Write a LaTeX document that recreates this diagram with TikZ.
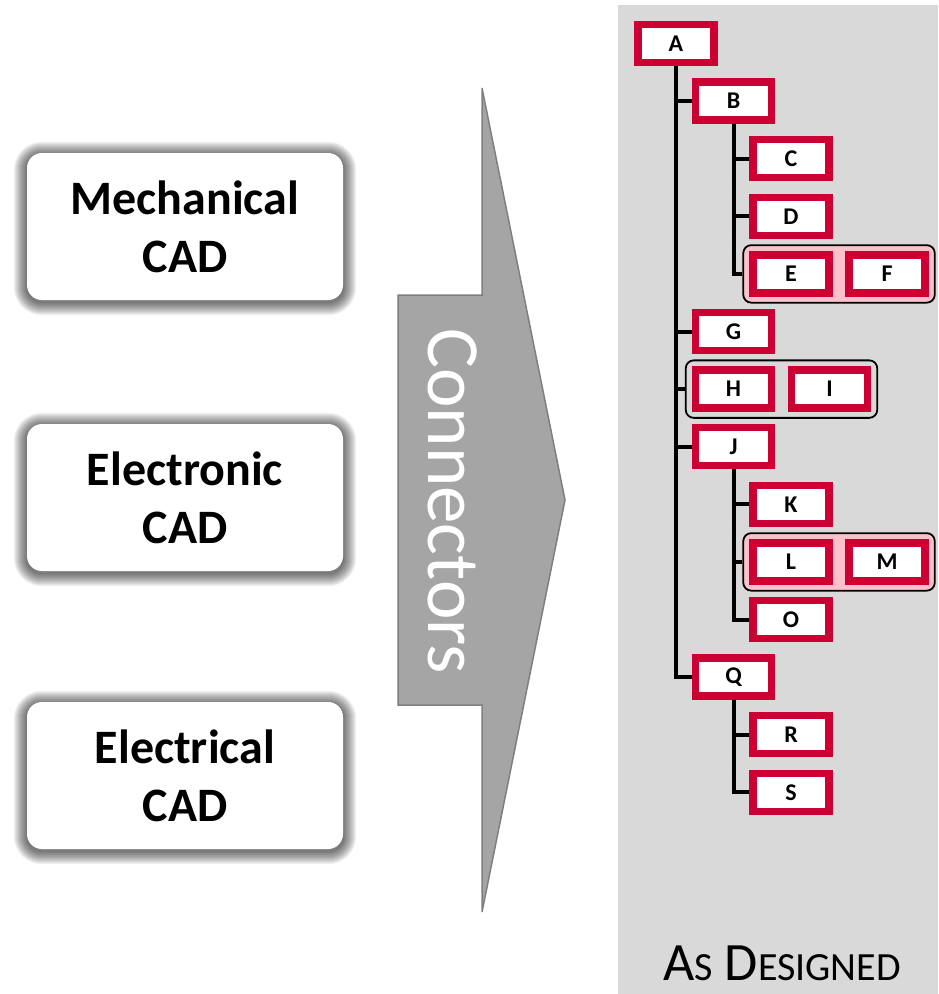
\documentclass[tikz,border=0pt]{standalone}
\usepackage{fontspec}
\setmainfont{Carlito}
\usepackage{tikz,xcolor}
\usetikzlibrary{positioning, fit, backgrounds}

\begin{document}
\begin{tikzpicture}[x=1pt, y=-1pt, node distance=57.6pt]

\definecolor{partred}{HTML}{CC0033}
\definecolor{grouppink}{HTML}{FFBFCB}
\definecolor{panelgray}{HTML}{D9D9D9}
\definecolor{arrowgray}{HTML}{A5A5A5}
\definecolor{arrowedge}{HTML}{7F7F7F}

\tikzstyle{cad} = [rectangle, rounded corners=15pt, fill=white, minimum width=316pt, minimum height=147pt, align=center, font=\bfseries\fontsize{48}{58}\selectfont]
\tikzstyle{part} = [rectangle, draw=partred, fill=white, line width=7.5pt, minimum width=76pt, minimum height=38pt, inner sep=0pt, font=\bfseries\fontsize{24}{24}\selectfont]
\tikzstyle{partgroup} = [rectangle, rounded corners=8pt, draw=black, line width=1.8pt, inner sep=6pt]
\tikzstyle{branch} = [draw=black, line width=4pt]

\useasboundingbox (0,0) rectangle (938,994);

% CAD sources
\node[cad] (mech) at (185,226.5) {Mechanical\\CAD};
\node[cad, below of=mech, node distance=271pt] (etronic) {Electronic\\CAD};
\node[cad, below of=etronic, node distance=278pt] (etrical) {Electrical\\CAD};

% big arrow
\draw[fill=arrowgray, draw=arrowedge, line width=1.5pt] (398,295) -- (482,295) -- (482,88) -- (565,500) -- (482,912) -- (482,705) -- (398,705) -- cycle;
\node[rotate=-90, text=white, font=\fontsize{75}{75}\selectfont] (conn) at (453,501) {Connectors};

% as designed structure
\node[part] (A) at (676,43.5) {A};
\node[part, below of=A, xshift=57.5pt] (B) {B};
\node[part, below of=B, xshift=57.5pt] (C) {C};
\node[part, below of=C] (D) {D};
\node[part, below of=D] (E) {E};
\node[part, right of=E, node distance=96pt] (F) {F};
\node[part, below of=E, xshift=-57.5pt] (G) {G};
\node[part, below of=G] (H) {H};
\node[part, right of=H, node distance=96pt] (I) {I};
\node[part, below of=H] (J) {J};
\node[part, below of=J, xshift=57.5pt] (K) {K};
\node[part, below of=K] (L) {L};
\node[part, right of=L, node distance=96pt] (M) {M};
\node[part, below of=L] (O) {O};
\node[part, below of=O, xshift=-57.5pt] (Q) {Q};
\node[part, below of=Q, xshift=57.5pt] (R) {R};
\node[part, below of=R] (S) {S};

\node[anchor=base, inner sep=0pt] (designed) at (782,980) {\fontsize{54}{60}\selectfont A\fontsize{40}{44}\selectfont S\fontsize{54}{60}\selectfont{} D\fontsize{40}{44}\selectfont ESIGNED};

\begin{scope}[on background layer]
\fill[panelgray] (618,5) rectangle (938,994);
\node[partgroup, fill=grouppink, fit=(E)(F)] (EF) {};
\node[partgroup, fit=(H)(I)] (HI) {};
\node[partgroup, fill=grouppink, fit=(L)(M)] (LM) {};
\foreach \n in {mech, etronic, etrical}
  \foreach \w in {2,4,...,26}
    \draw[black, opacity=0.055, line width=\w pt, rounded corners=15pt] ([yshift=-2pt]\n.north west) rectangle ([yshift=-2pt]\n.south east);
\end{scope}

\draw[branch] (A.south) |- (B.west);
\draw[branch] (A.south) |- (G.west);
\draw[branch] (A.south) |- (HI.west);
\draw[branch] (A.south) |- (J.west);
\draw[branch] (A.south) |- (Q.west);

\draw[branch] (B.south) |- (C.west);
\draw[branch] (B.south) |- (D.west);
\draw[branch] (B.south) |- (EF.west);

\draw[branch] (J.south) |- (K.west);
\draw[branch] (J.south) |- (LM.west);
\draw[branch] (J.south) |- (O.west);

\draw[branch] (Q.south) |- (R.west);
\draw[branch] (Q.south) |- (S.west);

\end{tikzpicture}
\end{document}
